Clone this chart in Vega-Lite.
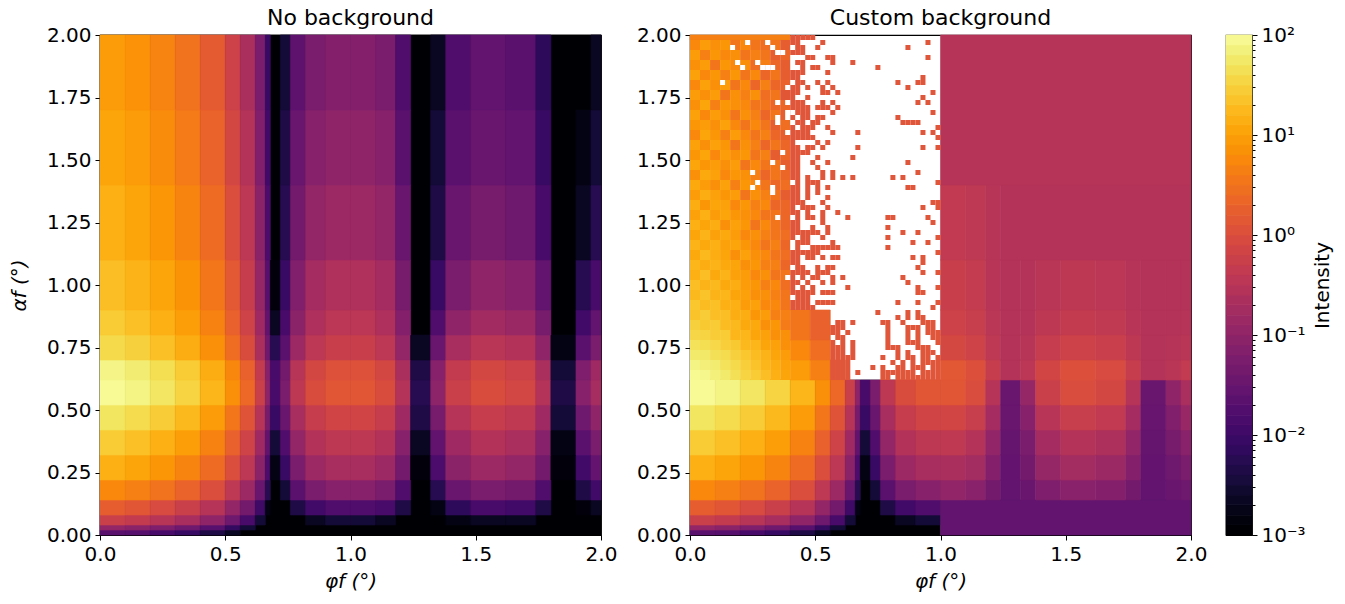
{"$schema":"https://vega.github.io/schema/vega-lite/v6.json","background":"white","padding":{"left":8,"top":6,"right":5,"bottom":5},"spacing":17,
"config":{"font":"DejaVu Sans","view":{"stroke":"black","strokeWidth":1.2},"title":{"fontSize":22,"fontWeight":"normal","color":"black","offset":-5},"rect":{"strokeWidth":0.6},
"axis":{"grid":false,"domain":false,"tickColor":"black","tickSize":5,"tickWidth":1,"labelFontSize":20,"labelColor":"black","titleFontSize":20,"titleFontWeight":"normal","titleColor":"black","labelFlush":false,"labelPadding":4}},
"datasets":{
"cols":[{"c":0,"x":0,"x2":0.1},{"c":1,"x":0.1,"x2":0.2},{"c":2,"x":0.2,"x2":0.3},{"c":3,"x":0.3,"x2":0.4},{"c":4,"x":0.4,"x2":0.5},{"c":5,"x":0.5,"x2":0.56},{"c":6,"x":0.56,"x2":0.62},{"c":7,"x":0.62,"x2":0.66},{"c":8,"x":0.66,"x2":0.68},{"c":9,"x":0.68,"x2":0.72},{"c":10,"x":0.72,"x2":0.76},{"c":11,"x":0.76,"x2":0.82},{"c":12,"x":0.82,"x2":0.9},{"c":13,"x":0.9,"x2":1},{"c":14,"x":1,"x2":1.1},{"c":15,"x":1.1,"x2":1.18},{"c":16,"x":1.18,"x2":1.24},{"c":17,"x":1.24,"x2":1.32},{"c":18,"x":1.32,"x2":1.38},{"c":19,"x":1.38,"x2":1.48},{"c":20,"x":1.48,"x2":1.62},{"c":21,"x":1.62,"x2":1.74},{"c":22,"x":1.74,"x2":1.8},{"c":23,"x":1.8,"x2":1.9},{"c":24,"x":1.9,"x2":1.96},{"c":25,"x":1.96,"x2":2},{"c":26,"x":0,"x2":2},{"c":27,"x":0,"x2":1},{"c":28,"x":1,"x2":2},{"c":29,"x":1.24,"x2":2},{"c":30,"x":0,"x2":0.4},{"c":31,"x":0.4,"x2":0.48},{"c":32,"x":0.48,"x2":0.56},{"c":33,"x":0.56,"x2":0.62}],
"rows":[{"r":0,"y":0,"y2":0.02},{"r":1,"y":0.02,"y2":0.04},{"r":2,"y":0.04,"y2":0.08},{"r":3,"y":0.08,"y2":0.14},{"r":4,"y":0.14,"y2":0.22},{"r":5,"y":0.22,"y2":0.32},{"r":6,"y":0.32,"y2":0.42},{"r":7,"y":0.42,"y2":0.52},{"r":8,"y":0.52,"y2":0.62},{"r":9,"y":0.62,"y2":0.7},{"r":10,"y":0.7,"y2":0.8},{"r":11,"y":0.8,"y2":0.9},{"r":12,"y":0.9,"y2":1.1},{"r":13,"y":1.1,"y2":1.4},{"r":14,"y":1.4,"y2":1.7},{"r":15,"y":1.7,"y2":2},{"r":16,"y":0,"y2":2},{"r":17,"y":0,"y2":0.62},{"r":18,"y":0,"y2":0.14},{"r":21,"y":1.4,"y2":2},{"r":22,"y":1.98,"y2":2},{"r":23,"y":0.62,"y2":0.7},{"r":24,"y":0.7,"y2":0.78},{"r":25,"y":0.78,"y2":0.9}],
"left":[{"c":26,"r":16,"v":0.001},
{"c":0,"r":0,"v":0.02},{"c":1,"r":0,"v":0.018},{"c":2,"r":0,"v":0.012},{"c":3,"r":0,"v":0.008},{"c":4,"r":0,"v":0.004},{"c":5,"r":0,"v":0.002},
{"c":0,"r":1,"v":0.1},{"c":1,"r":1,"v":0.08},{"c":2,"r":1,"v":0.055},{"c":3,"r":1,"v":0.035},{"c":4,"r":1,"v":0.018},{"c":5,"r":1,"v":0.007},{"c":6,"r":1,"v":0.003},
{"c":0,"r":2,"v":0.5},{"c":1,"r":2,"v":0.4},{"c":2,"r":2,"v":0.28},{"c":3,"r":2,"v":0.18},{"c":4,"r":2,"v":0.09},{"c":5,"r":2,"v":0.035},{"c":6,"r":2,"v":0.012},{"c":7,"r":2,"v":0.003},{"c":12,"r":2,"v":0.002},{"c":13,"r":2,"v":0.003},{"c":14,"r":2,"v":0.003},{"c":15,"r":2,"v":0.002},{"c":19,"r":2,"v":0.0015},{"c":20,"r":2,"v":0.002},{"c":21,"r":2,"v":0.002},
{"c":0,"r":3,"v":1.5},{"c":1,"r":3,"v":1.2},{"c":2,"r":3,"v":0.8},{"c":3,"r":3,"v":0.5},{"c":4,"r":3,"v":0.27},{"c":5,"r":3,"v":0.1},{"c":6,"r":3,"v":0.04},{"c":7,"r":3,"v":0.009},{"c":8,"r":3,"v":0.0015},{"c":11,"r":3,"v":0.004},{"c":12,"r":3,"v":0.01},{"c":13,"r":3,"v":0.015},{"c":14,"r":3,"v":0.015},{"c":15,"r":3,"v":0.012},{"c":16,"r":3,"v":0.004},{"c":18,"r":3,"v":0.0015},{"c":19,"r":3,"v":0.006},{"c":20,"r":3,"v":0.012},{"c":21,"r":3,"v":0.01},{"c":22,"r":3,"v":0.004},{"c":24,"r":3,"v":0.0012},{"c":25,"r":3,"v":0.002},
{"c":0,"r":4,"v":5},{"c":1,"r":4,"v":4},{"c":2,"r":4,"v":2.8},{"c":3,"r":4,"v":1.8},{"c":4,"r":4,"v":0.9},{"c":5,"r":4,"v":0.35},{"c":6,"r":4,"v":0.13},{"c":7,"r":4,"v":0.03},{"c":8,"r":4,"v":0.005},{"c":10,"r":4,"v":0.003},{"c":11,"r":4,"v":0.02},{"c":12,"r":4,"v":0.05},{"c":13,"r":4,"v":0.07},{"c":14,"r":4,"v":0.07},{"c":15,"r":4,"v":0.05},{"c":16,"r":4,"v":0.015},{"c":18,"r":4,"v":0.005},{"c":19,"r":4,"v":0.03},{"c":20,"r":4,"v":0.05},{"c":21,"r":4,"v":0.04},{"c":22,"r":4,"v":0.015},{"c":24,"r":4,"v":0.004},{"c":25,"r":4,"v":0.01},
{"c":0,"r":5,"v":13},{"c":1,"r":5,"v":10},{"c":2,"r":5,"v":7},{"c":3,"r":5,"v":4.5},{"c":4,"r":5,"v":2.3},{"c":5,"r":5,"v":0.9},{"c":6,"r":5,"v":0.33},{"c":7,"r":5,"v":0.08},{"c":8,"r":5,"v":0.013},{"c":9,"r":5,"v":0.0015},{"c":10,"r":5,"v":0.008},{"c":11,"r":5,"v":0.05},{"c":12,"r":5,"v":0.13},{"c":13,"r":5,"v":0.18},{"c":14,"r":5,"v":0.18},{"c":15,"r":5,"v":0.13},{"c":16,"r":5,"v":0.04},{"c":17,"r":5,"v":0.0012},{"c":18,"r":5,"v":0.013},{"c":19,"r":5,"v":0.08},{"c":20,"r":5,"v":0.13},{"c":21,"r":5,"v":0.1},{"c":22,"r":5,"v":0.04},{"c":23,"r":5,"v":0.0012},{"c":24,"r":5,"v":0.01},{"c":25,"r":5,"v":0.026},
{"c":0,"r":6,"v":24},{"c":1,"r":6,"v":19},{"c":2,"r":6,"v":13},{"c":3,"r":6,"v":8.5},{"c":4,"r":6,"v":4.3},{"c":5,"r":6,"v":1.7},{"c":6,"r":6,"v":0.6},{"c":7,"r":6,"v":0.14},{"c":8,"r":6,"v":0.024},{"c":9,"r":6,"v":0.003},{"c":10,"r":6,"v":0.015},{"c":11,"r":6,"v":0.1},{"c":12,"r":6,"v":0.24},{"c":13,"r":6,"v":0.34},{"c":14,"r":6,"v":0.34},{"c":15,"r":6,"v":0.24},{"c":16,"r":6,"v":0.07},{"c":17,"r":6,"v":0.002},{"c":18,"r":6,"v":0.024},{"c":19,"r":6,"v":0.14},{"c":20,"r":6,"v":0.24},{"c":21,"r":6,"v":0.19},{"c":22,"r":6,"v":0.07},{"c":23,"r":6,"v":0.0015},{"c":24,"r":6,"v":0.02},{"c":25,"r":6,"v":0.05},
{"c":0,"r":7,"v":45},{"c":1,"r":7,"v":36},{"c":2,"r":7,"v":25},{"c":3,"r":7,"v":16},{"c":4,"r":7,"v":8},{"c":5,"r":7,"v":3.2},{"c":6,"r":7,"v":1.1},{"c":7,"r":7,"v":0.27},{"c":8,"r":7,"v":0.045},{"c":9,"r":7,"v":0.008},{"c":10,"r":7,"v":0.03},{"c":11,"r":7,"v":0.18},{"c":12,"r":7,"v":0.45},{"c":13,"r":7,"v":0.63},{"c":14,"r":7,"v":0.63},{"c":15,"r":7,"v":0.45},{"c":16,"r":7,"v":0.14},{"c":17,"r":7,"v":0.004},{"c":18,"r":7,"v":0.045},{"c":19,"r":7,"v":0.27},{"c":20,"r":7,"v":0.45},{"c":21,"r":7,"v":0.36},{"c":22,"r":7,"v":0.14},{"c":23,"r":7,"v":0.003},{"c":24,"r":7,"v":0.036},{"c":25,"r":7,"v":0.09},
{"c":0,"r":8,"v":85},{"c":1,"r":8,"v":68},{"c":2,"r":8,"v":47},{"c":3,"r":8,"v":30},{"c":4,"r":8,"v":15},{"c":5,"r":8,"v":6},{"c":6,"r":8,"v":2.1},{"c":7,"r":8,"v":0.5},{"c":8,"r":8,"v":0.085},{"c":9,"r":8,"v":0.012},{"c":10,"r":8,"v":0.05},{"c":11,"r":8,"v":0.34},{"c":12,"r":8,"v":0.85},{"c":13,"r":8,"v":1.2},{"c":14,"r":8,"v":1.2},{"c":15,"r":8,"v":0.85},{"c":16,"r":8,"v":0.25},{"c":17,"r":8,"v":0.005},{"c":18,"r":8,"v":0.085},{"c":19,"r":8,"v":0.5},{"c":20,"r":8,"v":0.85},{"c":21,"r":8,"v":0.68},{"c":22,"r":8,"v":0.25},{"c":23,"r":8,"v":0.004},{"c":24,"r":8,"v":0.07},{"c":25,"r":8,"v":0.17},
{"c":0,"r":9,"v":70},{"c":1,"r":9,"v":56},{"c":2,"r":9,"v":38},{"c":3,"r":9,"v":24},{"c":4,"r":9,"v":12},{"c":5,"r":9,"v":4.9},{"c":6,"r":9,"v":1.7},{"c":7,"r":9,"v":0.4},{"c":8,"r":9,"v":0.07},{"c":9,"r":9,"v":0.012},{"c":10,"r":9,"v":0.04},{"c":11,"r":9,"v":0.28},{"c":12,"r":9,"v":0.7},{"c":13,"r":9,"v":1},{"c":14,"r":9,"v":1},{"c":15,"r":9,"v":0.7},{"c":16,"r":9,"v":0.2},{"c":17,"r":9,"v":0.004},{"c":18,"r":9,"v":0.07},{"c":19,"r":9,"v":0.4},{"c":20,"r":9,"v":0.7},{"c":21,"r":9,"v":0.56},{"c":22,"r":9,"v":0.2},{"c":23,"r":9,"v":0.003},{"c":24,"r":9,"v":0.055},{"c":25,"r":9,"v":0.14},
{"c":0,"r":10,"v":35},{"c":1,"r":10,"v":28},{"c":2,"r":10,"v":19},{"c":3,"r":10,"v":12},{"c":4,"r":10,"v":6},{"c":5,"r":10,"v":2.4},{"c":6,"r":10,"v":0.85},{"c":7,"r":10,"v":0.2},{"c":8,"r":10,"v":0.035},{"c":9,"r":10,"v":0.005},{"c":10,"r":10,"v":0.02},{"c":11,"r":10,"v":0.13},{"c":12,"r":10,"v":0.33},{"c":13,"r":10,"v":0.48},{"c":14,"r":10,"v":0.48},{"c":15,"r":10,"v":0.33},{"c":16,"r":10,"v":0.1},{"c":17,"r":10,"v":0.002},{"c":18,"r":10,"v":0.03},{"c":19,"r":10,"v":0.18},{"c":20,"r":10,"v":0.3},{"c":21,"r":10,"v":0.24},{"c":22,"r":10,"v":0.09},{"c":23,"r":10,"v":0.0015},{"c":24,"r":10,"v":0.02},{"c":25,"r":10,"v":0.05},
{"c":0,"r":11,"v":24},{"c":1,"r":11,"v":19},{"c":2,"r":11,"v":13},{"c":3,"r":11,"v":8.5},{"c":4,"r":11,"v":4.3},{"c":5,"r":11,"v":1.7},{"c":6,"r":11,"v":0.6},{"c":7,"r":11,"v":0.14},{"c":8,"r":11,"v":0.024},{"c":9,"r":11,"v":0.002},{"c":10,"r":11,"v":0.012},{"c":11,"r":11,"v":0.08},{"c":12,"r":11,"v":0.22},{"c":13,"r":11,"v":0.32},{"c":14,"r":11,"v":0.32},{"c":15,"r":11,"v":0.22},{"c":16,"r":11,"v":0.065},{"c":18,"r":11,"v":0.015},{"c":19,"r":11,"v":0.09},{"c":20,"r":11,"v":0.15},{"c":21,"r":11,"v":0.12},{"c":22,"r":11,"v":0.045},{"c":24,"r":11,"v":0.01},{"c":25,"r":11,"v":0.025},
{"c":0,"r":12,"v":18},{"c":1,"r":12,"v":14},{"c":2,"r":12,"v":10},{"c":3,"r":12,"v":6.5},{"c":4,"r":12,"v":3.2},{"c":5,"r":12,"v":1.3},{"c":6,"r":12,"v":0.45},{"c":7,"r":12,"v":0.11},{"c":8,"r":12,"v":0.018},{"c":9,"r":12,"v":0.0012},{"c":10,"r":12,"v":0.008},{"c":11,"r":12,"v":0.06},{"c":12,"r":12,"v":0.16},{"c":13,"r":12,"v":0.23},{"c":14,"r":12,"v":0.23},{"c":15,"r":12,"v":0.16},{"c":16,"r":12,"v":0.045},{"c":18,"r":12,"v":0.008},{"c":19,"r":12,"v":0.05},{"c":20,"r":12,"v":0.09},{"c":21,"r":12,"v":0.07},{"c":22,"r":12,"v":0.025},{"c":24,"r":12,"v":0.005},{"c":25,"r":12,"v":0.012},
{"c":0,"r":13,"v":13},{"c":1,"r":13,"v":10},{"c":2,"r":13,"v":7},{"c":3,"r":13,"v":4.5},{"c":4,"r":13,"v":2.3},{"c":5,"r":13,"v":0.9},{"c":6,"r":13,"v":0.33},{"c":7,"r":13,"v":0.08},{"c":8,"r":13,"v":0.013},{"c":10,"r":13,"v":0.005},{"c":11,"r":13,"v":0.04},{"c":12,"r":13,"v":0.1},{"c":13,"r":13,"v":0.13},{"c":14,"r":13,"v":0.13},{"c":15,"r":13,"v":0.1},{"c":16,"r":13,"v":0.03},{"c":18,"r":13,"v":0.004},{"c":19,"r":13,"v":0.03},{"c":20,"r":13,"v":0.045},{"c":21,"r":13,"v":0.035},{"c":22,"r":13,"v":0.012},{"c":24,"r":13,"v":0.002},{"c":25,"r":13,"v":0.005},
{"c":0,"r":14,"v":10},{"c":1,"r":14,"v":8},{"c":2,"r":14,"v":5.5},{"c":3,"r":14,"v":3.5},{"c":4,"r":14,"v":1.8},{"c":5,"r":14,"v":0.7},{"c":6,"r":14,"v":0.25},{"c":7,"r":14,"v":0.06},{"c":8,"r":14,"v":0.01},{"c":10,"r":14,"v":0.004},{"c":11,"r":14,"v":0.03},{"c":12,"r":14,"v":0.07},{"c":13,"r":14,"v":0.09},{"c":14,"r":14,"v":0.09},{"c":15,"r":14,"v":0.07},{"c":16,"r":14,"v":0.02},{"c":18,"r":14,"v":0.003},{"c":19,"r":14,"v":0.02},{"c":20,"r":14,"v":0.03},{"c":21,"r":14,"v":0.025},{"c":22,"r":14,"v":0.008},{"c":24,"r":14,"v":0.0015},{"c":25,"r":14,"v":0.003},
{"c":0,"r":15,"v":8},{"c":1,"r":15,"v":6.4},{"c":2,"r":15,"v":4.4},{"c":3,"r":15,"v":2.8},{"c":4,"r":15,"v":1.4},{"c":5,"r":15,"v":0.56},{"c":6,"r":15,"v":0.2},{"c":7,"r":15,"v":0.05},{"c":8,"r":15,"v":0.008},{"c":10,"r":15,"v":0.003},{"c":11,"r":15,"v":0.022},{"c":12,"r":15,"v":0.05},{"c":13,"r":15,"v":0.065},{"c":14,"r":15,"v":0.065},{"c":15,"r":15,"v":0.05},{"c":16,"r":15,"v":0.015},{"c":18,"r":15,"v":0.002},{"c":19,"r":15,"v":0.015},{"c":20,"r":15,"v":0.025},{"c":21,"r":15,"v":0.02},{"c":22,"r":15,"v":0.006},{"c":25,"r":15,"v":0.002}],
"right":[{"c":27,"r":17,"v":0.001},{"c":28,"r":18,"v":0.025},
{"c":14,"r":4,"v":0.095},{"c":15,"r":4,"v":0.075},{"c":16,"r":4,"v":0.04},{"c":17,"r":4,"v":0.025},{"c":18,"r":4,"v":0.03},{"c":19,"r":4,"v":0.055},{"c":20,"r":4,"v":0.075},{"c":21,"r":4,"v":0.065},{"c":22,"r":4,"v":0.04},{"c":23,"r":4,"v":0.025},{"c":24,"r":4,"v":0.03},{"c":25,"r":4,"v":0.035},
{"c":14,"r":5,"v":0.2},{"c":15,"r":5,"v":0.155},{"c":16,"r":5,"v":0.065},{"c":17,"r":5,"v":0.026},{"c":18,"r":5,"v":0.04},{"c":19,"r":5,"v":0.105},{"c":20,"r":5,"v":0.155},{"c":21,"r":5,"v":0.125},{"c":22,"r":5,"v":0.065},{"c":23,"r":5,"v":0.026},{"c":24,"r":5,"v":0.035},{"c":25,"r":5,"v":0.05},
{"c":14,"r":6,"v":0.36},{"c":15,"r":6,"v":0.26},{"c":16,"r":6,"v":0.095},{"c":17,"r":6,"v":0.027},{"c":18,"r":6,"v":0.05},{"c":19,"r":6,"v":0.16},{"c":20,"r":6,"v":0.26},{"c":21,"r":6,"v":0.21},{"c":22,"r":6,"v":0.095},{"c":23,"r":6,"v":0.027},{"c":24,"r":6,"v":0.045},{"c":25,"r":6,"v":0.075},
{"c":14,"r":7,"v":0.65},{"c":15,"r":7,"v":0.47},{"c":16,"r":7,"v":0.16},{"c":17,"r":7,"v":0.03},{"c":18,"r":7,"v":0.07},{"c":19,"r":7,"v":0.29},{"c":20,"r":7,"v":0.47},{"c":21,"r":7,"v":0.38},{"c":22,"r":7,"v":0.16},{"c":23,"r":7,"v":0.028},{"c":24,"r":7,"v":0.06},{"c":25,"r":7,"v":0.115},
{"c":14,"r":8,"v":1.2},{"c":15,"r":8,"v":0.87},{"c":16,"r":8,"v":0.27},{"c":17,"r":8,"v":0.03},{"c":18,"r":8,"v":0.11},{"c":19,"r":8,"v":0.52},{"c":20,"r":8,"v":0.87},{"c":21,"r":8,"v":0.7},{"c":22,"r":8,"v":0.27},{"c":23,"r":8,"v":0.03},{"c":24,"r":8,"v":0.09},{"c":25,"r":8,"v":0.19},
{"c":14,"r":9,"v":1.25},{"c":15,"r":9,"v":0.95},{"c":16,"r":9,"v":0.45},{"c":17,"r":9,"v":0.25},{"c":18,"r":9,"v":0.32},{"c":19,"r":9,"v":0.65},{"c":20,"r":9,"v":0.95},{"c":21,"r":9,"v":0.8},{"c":22,"r":9,"v":0.45},{"c":23,"r":9,"v":0.25},{"c":24,"r":9,"v":0.3},{"c":25,"r":9,"v":0.39},
{"c":14,"r":10,"v":0.73},{"c":15,"r":10,"v":0.58},{"c":16,"r":10,"v":0.35},{"c":17,"r":10,"v":0.25},{"c":18,"r":10,"v":0.28},{"c":19,"r":10,"v":0.43},{"c":20,"r":10,"v":0.55},{"c":21,"r":10,"v":0.49},{"c":22,"r":10,"v":0.34},{"c":23,"r":10,"v":0.25},{"c":24,"r":10,"v":0.27},{"c":25,"r":10,"v":0.3},
{"c":14,"r":11,"v":0.57},{"c":15,"r":11,"v":0.47},{"c":16,"r":11,"v":0.31},{"c":17,"r":11,"v":0.25},{"c":18,"r":11,"v":0.26},{"c":19,"r":11,"v":0.34},{"c":20,"r":11,"v":0.4},{"c":21,"r":11,"v":0.37},{"c":22,"r":11,"v":0.29},{"c":23,"r":11,"v":0.25},{"c":24,"r":11,"v":0.26},{"c":25,"r":11,"v":0.27},
{"c":14,"r":12,"v":0.48},{"c":15,"r":12,"v":0.41},{"c":16,"r":12,"v":0.29},{"c":17,"r":12,"v":0.25},{"c":18,"r":12,"v":0.26},{"c":19,"r":12,"v":0.3},{"c":20,"r":12,"v":0.34},{"c":21,"r":12,"v":0.32},{"c":22,"r":12,"v":0.27},{"c":23,"r":12,"v":0.25},{"c":24,"r":12,"v":0.25},{"c":25,"r":12,"v":0.26},
{"c":14,"r":13,"v":0.38},{"c":15,"r":13,"v":0.35},{"c":16,"r":13,"v":0.28},{"c":29,"r":13,"v":0.26},{"c":28,"r":21,"v":0.27},
{"c":30,"r":22,"v":4},{"c":31,"r":23,"v":8},{"c":32,"r":23,"v":4},{"c":33,"r":23,"v":1.8},{"c":31,"r":24,"v":5},{"c":32,"r":24,"v":2.5},{"c":31,"r":25,"v":3},{"c":32,"r":25,"v":1.7}],
"coarse":[
{"x":0.02,"y":1.96,"v":5},{"x":0.06,"y":1.96,"v":8},{"x":0.1,"y":1.96,"v":6},{"x":0.14,"y":1.96,"v":7},{"x":0.18,"y":1.96,"v":3},{"x":0.22,"y":1.96,"v":5},{"x":0.26,"y":1.96,"v":3},{"x":0.3,"y":1.96,"v":2.5},{"x":0.34,"y":1.96,"v":3},{"x":0.38,"y":1.96,"v":1.5},
{"x":0.02,"y":1.92,"v":8},{"x":0.06,"y":1.92,"v":4},{"x":0.1,"y":1.92,"v":7},{"x":0.14,"y":1.92,"v":5},{"x":0.18,"y":1.92,"v":6},{"x":0.22,"y":1.92,"v":3},{"x":0.26,"y":1.92,"v":4},{"x":0.3,"y":1.92,"v":3},{"x":0.34,"y":1.92,"v":1.5},{"x":0.38,"y":1.92,"v":2},
{"x":0.02,"y":1.88,"v":6},{"x":0.06,"y":1.88,"v":8},{"x":0.1,"y":1.88,"v":3},{"x":0.14,"y":1.88,"v":7},{"x":0.18,"y":1.88,"v":5},{"x":0.22,"y":1.88,"v":6},{"x":0.26,"y":1.88,"v":2.5},{"x":0.3,"y":1.88,"v":4},{"x":0.34,"y":1.88,"v":2},{"x":0.38,"y":1.88,"v":1.5},
{"x":0.02,"y":1.84,"v":9},{"x":0.06,"y":1.84,"v":5},{"x":0.1,"y":1.84,"v":7},{"x":0.14,"y":1.84,"v":4},{"x":0.18,"y":1.84,"v":7},{"x":0.22,"y":1.84,"v":3},{"x":0.26,"y":1.84,"v":5},{"x":0.3,"y":1.84,"v":2},{"x":0.34,"y":1.84,"v":3},{"x":0.38,"y":1.84,"v":1.5},
{"x":0.02,"y":1.8,"v":5},{"x":0.06,"y":1.8,"v":9},{"x":0.1,"y":1.8,"v":6},{"x":0.14,"y":1.8,"v":8},{"x":0.18,"y":1.8,"v":3},{"x":0.22,"y":1.8,"v":5},{"x":0.26,"y":1.8,"v":2},{"x":0.3,"y":1.8,"v":4},{"x":0.34,"y":1.8,"v":2},{"x":0.38,"y":1.8,"v":1.8},
{"x":0.02,"y":1.76,"v":8},{"x":0.06,"y":1.76,"v":6},{"x":0.1,"y":1.76,"v":8},{"x":0.14,"y":1.76,"v":3},{"x":0.18,"y":1.76,"v":6},{"x":0.22,"y":1.76,"v":4},{"x":0.26,"y":1.76,"v":6},{"x":0.3,"y":1.76,"v":2.5},{"x":0.34,"y":1.76,"v":3},{"x":0.38,"y":1.76,"v":1.2},
{"x":0.02,"y":1.72,"v":6},{"x":0.06,"y":1.72,"v":10},{"x":0.1,"y":1.72,"v":4},{"x":0.14,"y":1.72,"v":7},{"x":0.18,"y":1.72,"v":6},{"x":0.22,"y":1.72,"v":5},{"x":0.26,"y":1.72,"v":3},{"x":0.3,"y":1.72,"v":3},{"x":0.34,"y":1.72,"v":2},{"x":0.38,"y":1.72,"v":2},
{"x":0.02,"y":1.68,"v":9},{"x":0.06,"y":1.68,"v":5},{"x":0.1,"y":1.68,"v":8},{"x":0.14,"y":1.68,"v":6},{"x":0.18,"y":1.68,"v":3},{"x":0.22,"y":1.68,"v":6},{"x":0.26,"y":1.68,"v":4},{"x":0.3,"y":1.68,"v":2},{"x":0.34,"y":1.68,"v":3},{"x":0.38,"y":1.68,"v":1.5},
{"x":0.02,"y":1.64,"v":7},{"x":0.06,"y":1.64,"v":8},{"x":0.1,"y":1.64,"v":6},{"x":0.14,"y":1.64,"v":9},{"x":0.18,"y":1.64,"v":5},{"x":0.22,"y":1.64,"v":3},{"x":0.26,"y":1.64,"v":5},{"x":0.3,"y":1.64,"v":3},{"x":0.34,"y":1.64,"v":1.5},{"x":0.38,"y":1.64,"v":2.5},
{"x":0.02,"y":1.6,"v":5},{"x":0.06,"y":1.6,"v":10},{"x":0.1,"y":1.6,"v":7},{"x":0.14,"y":1.6,"v":4},{"x":0.18,"y":1.6,"v":8},{"x":0.22,"y":1.6,"v":5},{"x":0.26,"y":1.6,"v":3},{"x":0.3,"y":1.6,"v":4},{"x":0.34,"y":1.6,"v":2},{"x":0.38,"y":1.6,"v":1.5},
{"x":0.02,"y":1.56,"v":9},{"x":0.06,"y":1.56,"v":6},{"x":0.1,"y":1.56,"v":9},{"x":0.14,"y":1.56,"v":7},{"x":0.18,"y":1.56,"v":3},{"x":0.22,"y":1.56,"v":6},{"x":0.26,"y":1.56,"v":4},{"x":0.3,"y":1.56,"v":2},{"x":0.34,"y":1.56,"v":3},{"x":0.38,"y":1.56,"v":2},
{"x":0.02,"y":1.52,"v":7},{"x":0.06,"y":1.52,"v":10},{"x":0.1,"y":1.52,"v":5},{"x":0.14,"y":1.52,"v":8},{"x":0.18,"y":1.52,"v":6},{"x":0.22,"y":1.52,"v":7},{"x":0.26,"y":1.52,"v":3},{"x":0.3,"y":1.52,"v":4},{"x":0.34,"y":1.52,"v":1.5},{"x":0.38,"y":1.52,"v":2},
{"x":0.02,"y":1.48,"v":10},{"x":0.06,"y":1.48,"v":7},{"x":0.1,"y":1.48,"v":8},{"x":0.14,"y":1.48,"v":6},{"x":0.18,"y":1.48,"v":8},{"x":0.22,"y":1.48,"v":3},{"x":0.26,"y":1.48,"v":5},{"x":0.3,"y":1.48,"v":3},{"x":0.34,"y":1.48,"v":3},{"x":0.38,"y":1.48,"v":1.5},
{"x":0.02,"y":1.44,"v":6},{"x":0.06,"y":1.44,"v":11},{"x":0.1,"y":1.44,"v":9},{"x":0.14,"y":1.44,"v":5},{"x":0.18,"y":1.44,"v":7},{"x":0.22,"y":1.44,"v":6},{"x":0.26,"y":1.44,"v":4},{"x":0.3,"y":1.44,"v":2},{"x":0.34,"y":1.44,"v":3},{"x":0.38,"y":1.44,"v":2},
{"x":0.02,"y":1.4,"v":11},{"x":0.06,"y":1.4,"v":8},{"x":0.1,"y":1.4,"v":6},{"x":0.14,"y":1.4,"v":9},{"x":0.18,"y":1.4,"v":4},{"x":0.22,"y":1.4,"v":7},{"x":0.26,"y":1.4,"v":5},{"x":0.3,"y":1.4,"v":3},{"x":0.34,"y":1.4,"v":2},{"x":0.38,"y":1.4,"v":2.5},
{"x":0.02,"y":1.36,"v":8},{"x":0.06,"y":1.36,"v":12},{"x":0.1,"y":1.36,"v":9},{"x":0.14,"y":1.36,"v":7},{"x":0.18,"y":1.36,"v":8},{"x":0.22,"y":1.36,"v":3},{"x":0.26,"y":1.36,"v":6},{"x":0.3,"y":1.36,"v":4},{"x":0.34,"y":1.36,"v":3},{"x":0.38,"y":1.36,"v":1.5},
{"x":0.02,"y":1.32,"v":12},{"x":0.06,"y":1.32,"v":7},{"x":0.1,"y":1.32,"v":10},{"x":0.14,"y":1.32,"v":9},{"x":0.18,"y":1.32,"v":5},{"x":0.22,"y":1.32,"v":7},{"x":0.26,"y":1.32,"v":4},{"x":0.3,"y":1.32,"v":5},{"x":0.34,"y":1.32,"v":2},{"x":0.38,"y":1.32,"v":2},
{"x":0.02,"y":1.28,"v":9},{"x":0.06,"y":1.28,"v":13},{"x":0.1,"y":1.28,"v":8},{"x":0.14,"y":1.28,"v":10},{"x":0.18,"y":1.28,"v":7},{"x":0.22,"y":1.28,"v":6},{"x":0.26,"y":1.28,"v":5},{"x":0.3,"y":1.28,"v":3},{"x":0.34,"y":1.28,"v":3},{"x":0.38,"y":1.28,"v":2},
{"x":0.02,"y":1.24,"v":13},{"x":0.06,"y":1.24,"v":10},{"x":0.1,"y":1.24,"v":12},{"x":0.14,"y":1.24,"v":6},{"x":0.18,"y":1.24,"v":9},{"x":0.22,"y":1.24,"v":7},{"x":0.26,"y":1.24,"v":3},{"x":0.3,"y":1.24,"v":5},{"x":0.34,"y":1.24,"v":3},{"x":0.38,"y":1.24,"v":2},
{"x":0.02,"y":1.2,"v":10},{"x":0.06,"y":1.2,"v":14},{"x":0.1,"y":1.2,"v":9},{"x":0.14,"y":1.2,"v":11},{"x":0.18,"y":1.2,"v":8},{"x":0.22,"y":1.2,"v":5},{"x":0.26,"y":1.2,"v":6},{"x":0.3,"y":1.2,"v":4},{"x":0.34,"y":1.2,"v":3},{"x":0.38,"y":1.2,"v":2.5},
{"x":0.02,"y":1.16,"v":14},{"x":0.06,"y":1.16,"v":11},{"x":0.1,"y":1.16,"v":13},{"x":0.14,"y":1.16,"v":9},{"x":0.18,"y":1.16,"v":10},{"x":0.22,"y":1.16,"v":7},{"x":0.26,"y":1.16,"v":5},{"x":0.3,"y":1.16,"v":3},{"x":0.34,"y":1.16,"v":4},{"x":0.38,"y":1.16,"v":2},
{"x":0.02,"y":1.12,"v":11},{"x":0.06,"y":1.12,"v":16},{"x":0.1,"y":1.12,"v":12},{"x":0.14,"y":1.12,"v":10},{"x":0.18,"y":1.12,"v":6},{"x":0.22,"y":1.12,"v":9},{"x":0.26,"y":1.12,"v":6},{"x":0.3,"y":1.12,"v":5},{"x":0.34,"y":1.12,"v":3},{"x":0.38,"y":1.12,"v":2.5},
{"x":0.02,"y":1.08,"v":15},{"x":0.06,"y":1.08,"v":12},{"x":0.1,"y":1.08,"v":14},{"x":0.14,"y":1.08,"v":11},{"x":0.18,"y":1.08,"v":10},{"x":0.22,"y":1.08,"v":6},{"x":0.26,"y":1.08,"v":7},{"x":0.3,"y":1.08,"v":4},{"x":0.34,"y":1.08,"v":4},{"x":0.38,"y":1.08,"v":2},
{"x":0.02,"y":1.04,"v":13},{"x":0.06,"y":1.04,"v":18},{"x":0.1,"y":1.04,"v":11},{"x":0.14,"y":1.04,"v":14},{"x":0.18,"y":1.04,"v":9},{"x":0.22,"y":1.04,"v":8},{"x":0.26,"y":1.04,"v":5},{"x":0.3,"y":1.04,"v":6},{"x":0.34,"y":1.04,"v":3},{"x":0.38,"y":1.04,"v":3},
{"x":0.02,"y":1,"v":18},{"x":0.06,"y":1,"v":14},{"x":0.1,"y":1,"v":16},{"x":0.14,"y":1,"v":11},{"x":0.18,"y":1,"v":12},{"x":0.22,"y":1,"v":8},{"x":0.26,"y":1,"v":7},{"x":0.3,"y":1,"v":4},{"x":0.34,"y":1,"v":5},{"x":0.38,"y":1,"v":2.5},
{"x":0.02,"y":0.96,"v":16},{"x":0.06,"y":0.96,"v":20},{"x":0.1,"y":0.96,"v":14},{"x":0.14,"y":0.96,"v":15},{"x":0.18,"y":0.96,"v":10},{"x":0.22,"y":0.96,"v":9},{"x":0.26,"y":0.96,"v":6},{"x":0.3,"y":0.96,"v":6},{"x":0.34,"y":0.96,"v":4},{"x":0.38,"y":0.96,"v":3},
{"x":0.02,"y":0.92,"v":22},{"x":0.06,"y":0.92,"v":17},{"x":0.1,"y":0.92,"v":19},{"x":0.14,"y":0.92,"v":13},{"x":0.18,"y":0.92,"v":13},{"x":0.22,"y":0.92,"v":8},{"x":0.26,"y":0.92,"v":9},{"x":0.3,"y":0.92,"v":5},{"x":0.34,"y":0.92,"v":5},{"x":0.38,"y":0.92,"v":3},
{"x":0.02,"y":0.88,"v":20},{"x":0.06,"y":0.88,"v":25},{"x":0.1,"y":0.88,"v":18},{"x":0.14,"y":0.88,"v":18},{"x":0.18,"y":0.88,"v":12},{"x":0.22,"y":0.88,"v":12},{"x":0.26,"y":0.88,"v":7},{"x":0.3,"y":0.88,"v":8},{"x":0.34,"y":0.88,"v":4},{"x":0.38,"y":0.88,"v":4},
{"x":0.02,"y":0.84,"v":28},{"x":0.06,"y":0.84,"v":23},{"x":0.1,"y":0.84,"v":24},{"x":0.14,"y":0.84,"v":17},{"x":0.18,"y":0.84,"v":16},{"x":0.22,"y":0.84,"v":11},{"x":0.26,"y":0.84,"v":11},{"x":0.3,"y":0.84,"v":6},{"x":0.34,"y":0.84,"v":7},{"x":0.38,"y":0.84,"v":3.5},
{"x":0.02,"y":0.8,"v":32},{"x":0.06,"y":0.8,"v":30},{"x":0.1,"y":0.8,"v":25},{"x":0.14,"y":0.8,"v":24},{"x":0.18,"y":0.8,"v":15},{"x":0.22,"y":0.8,"v":15},{"x":0.26,"y":0.8,"v":10},{"x":0.3,"y":0.8,"v":9},{"x":0.34,"y":0.8,"v":6},{"x":0.38,"y":0.8,"v":6},
{"x":0.02,"y":0.76,"v":42},{"x":0.06,"y":0.76,"v":38},{"x":0.1,"y":0.76,"v":33},{"x":0.14,"y":0.76,"v":27},{"x":0.18,"y":0.76,"v":23},{"x":0.22,"y":0.76,"v":16},{"x":0.26,"y":0.76,"v":15},{"x":0.3,"y":0.76,"v":10},{"x":0.34,"y":0.76,"v":9},{"x":0.38,"y":0.76,"v":6},
{"x":0.02,"y":0.72,"v":52},{"x":0.06,"y":0.72,"v":50},{"x":0.1,"y":0.72,"v":40},{"x":0.14,"y":0.72,"v":36},{"x":0.18,"y":0.72,"v":28},{"x":0.22,"y":0.72,"v":22},{"x":0.26,"y":0.72,"v":17},{"x":0.3,"y":0.72,"v":14},{"x":0.34,"y":0.72,"v":10},{"x":0.38,"y":0.72,"v":8},
{"x":0.02,"y":0.68,"v":68},{"x":0.06,"y":0.68,"v":60},{"x":0.1,"y":0.68,"v":55},{"x":0.14,"y":0.68,"v":42},{"x":0.18,"y":0.68,"v":35},{"x":0.22,"y":0.68,"v":27},{"x":0.26,"y":0.68,"v":20},{"x":0.3,"y":0.68,"v":15},{"x":0.34,"y":0.68,"v":12},{"x":0.38,"y":0.68,"v":9},
{"x":0.02,"y":0.64,"v":80},{"x":0.06,"y":0.64,"v":75},{"x":0.1,"y":0.64,"v":62},{"x":0.14,"y":0.64,"v":52},{"x":0.18,"y":0.64,"v":40},{"x":0.22,"y":0.64,"v":30},{"x":0.26,"y":0.64,"v":24},{"x":0.3,"y":0.64,"v":18},{"x":0.34,"y":0.64,"v":13},{"x":0.38,"y":0.64,"v":10}],
"fine":[
{"x":0.41,"y":1.99},{"x":0.43,"y":1.99},{"x":0.45,"y":1.99},{"x":0.47,"y":1.99},{"x":0.49,"y":1.99},
{"x":0.41,"y":1.97},{"x":0.43,"y":1.97},{"x":0.53,"y":1.97},{"x":0.95,"y":1.97},
{"x":0.43,"y":1.95},{"x":0.45,"y":1.95},{"x":0.51,"y":1.95},{"x":0.87,"y":1.95},
{"x":0.41,"y":1.93},{"x":0.43,"y":1.93},{"x":0.45,"y":1.93},
{"x":0.47,"y":1.91},{"x":0.49,"y":1.91},{"x":0.55,"y":1.91},{"x":0.57,"y":1.91},{"x":0.95,"y":1.91},
{"x":0.43,"y":1.89},{"x":0.45,"y":1.89},{"x":0.57,"y":1.89},{"x":0.65,"y":1.89},
{"x":0.45,"y":1.87},{"x":0.49,"y":1.87},{"x":0.51,"y":1.87},{"x":0.75,"y":1.87},
{"x":0.41,"y":1.85},{"x":0.43,"y":1.85},{"x":0.45,"y":1.85},{"x":0.55,"y":1.85},
{"x":0.41,"y":1.83},{"x":0.43,"y":1.83},{"x":0.93,"y":1.83},
{"x":0.43,"y":1.81},{"x":0.45,"y":1.81},{"x":0.51,"y":1.81},{"x":0.55,"y":1.81},{"x":0.83,"y":1.81},{"x":0.91,"y":1.81},{"x":0.93,"y":1.81},
{"x":0.41,"y":1.79},{"x":0.43,"y":1.79},{"x":0.47,"y":1.79},{"x":0.53,"y":1.79},{"x":0.57,"y":1.79},{"x":0.87,"y":1.79},
{"x":0.41,"y":1.77},{"x":0.43,"y":1.77},{"x":0.53,"y":1.77},{"x":0.55,"y":1.77},{"x":0.59,"y":1.77},{"x":0.97,"y":1.77},
{"x":0.41,"y":1.75},{"x":0.47,"y":1.75},{"x":0.93,"y":1.75},
{"x":0.41,"y":1.73},{"x":0.43,"y":1.73},{"x":0.45,"y":1.73},{"x":0.53,"y":1.73},{"x":0.57,"y":1.73},{"x":0.91,"y":1.73},{"x":0.95,"y":1.73},
{"x":0.41,"y":1.71},{"x":0.43,"y":1.71},{"x":0.45,"y":1.71},{"x":0.47,"y":1.71},{"x":0.51,"y":1.71},{"x":0.53,"y":1.71},{"x":0.55,"y":1.71},{"x":0.59,"y":1.71},
{"x":0.43,"y":1.69},{"x":0.45,"y":1.69},{"x":0.47,"y":1.69},{"x":0.57,"y":1.69},{"x":0.97,"y":1.69},
{"x":0.41,"y":1.67},{"x":0.45,"y":1.67},{"x":0.47,"y":1.67},{"x":0.51,"y":1.67},{"x":0.53,"y":1.67},{"x":0.83,"y":1.67},
{"x":0.43,"y":1.65},{"x":0.45,"y":1.65},{"x":0.49,"y":1.65},{"x":0.51,"y":1.65},{"x":0.85,"y":1.65},{"x":0.87,"y":1.65},{"x":0.89,"y":1.65},{"x":0.91,"y":1.65},
{"x":0.41,"y":1.63},{"x":0.45,"y":1.63},{"x":0.47,"y":1.63},{"x":0.49,"y":1.63},{"x":0.55,"y":1.63},{"x":0.99,"y":1.63},
{"x":0.41,"y":1.61},{"x":0.43,"y":1.61},{"x":0.45,"y":1.61},{"x":0.47,"y":1.61},{"x":0.57,"y":1.61},{"x":0.67,"y":1.61},{"x":0.93,"y":1.61},{"x":0.97,"y":1.61},
{"x":0.41,"y":1.59},{"x":0.43,"y":1.59},{"x":0.45,"y":1.59},{"x":0.47,"y":1.59},{"x":0.49,"y":1.59},{"x":0.99,"y":1.59},
{"x":0.41,"y":1.57},{"x":0.51,"y":1.57},{"x":0.55,"y":1.57},
{"x":0.41,"y":1.55},{"x":0.43,"y":1.55},{"x":0.47,"y":1.55},{"x":0.49,"y":1.55},{"x":0.53,"y":1.55},{"x":0.67,"y":1.55},{"x":0.93,"y":1.55},{"x":0.99,"y":1.55},
{"x":0.41,"y":1.53},{"x":0.43,"y":1.53},{"x":0.45,"y":1.53},{"x":0.47,"y":1.53},
{"x":0.41,"y":1.51},{"x":0.43,"y":1.51},{"x":0.51,"y":1.51},{"x":0.65,"y":1.51},
{"x":0.41,"y":1.49},{"x":0.43,"y":1.49},{"x":0.49,"y":1.49},{"x":0.55,"y":1.49},{"x":0.87,"y":1.49},
{"x":0.41,"y":1.47},{"x":0.43,"y":1.47},{"x":0.51,"y":1.47},
{"x":0.41,"y":1.45},{"x":0.43,"y":1.45},{"x":0.53,"y":1.45},{"x":0.57,"y":1.45},{"x":0.91,"y":1.45},
{"x":0.41,"y":1.43},{"x":0.43,"y":1.43},{"x":0.47,"y":1.43},{"x":0.53,"y":1.43},{"x":0.57,"y":1.43},{"x":0.61,"y":1.43},{"x":0.65,"y":1.43},{"x":0.81,"y":1.43},{"x":0.85,"y":1.43},
{"x":0.43,"y":1.41},{"x":0.47,"y":1.41},{"x":0.49,"y":1.41},{"x":0.51,"y":1.41},{"x":0.99,"y":1.41},
{"x":0.41,"y":1.39},{"x":0.43,"y":1.39},{"x":0.47,"y":1.39},{"x":0.51,"y":1.39},{"x":0.55,"y":1.39},{"x":0.87,"y":1.39},{"x":0.89,"y":1.39},
{"x":0.41,"y":1.37},{"x":0.43,"y":1.37},{"x":0.47,"y":1.37},{"x":0.51,"y":1.37},
{"x":0.41,"y":1.35},{"x":0.43,"y":1.35},{"x":0.47,"y":1.35},{"x":0.55,"y":1.35},
{"x":0.41,"y":1.33},{"x":0.43,"y":1.33},{"x":0.45,"y":1.33},{"x":0.53,"y":1.33},{"x":0.97,"y":1.33},{"x":0.99,"y":1.33},
{"x":0.41,"y":1.31},{"x":0.45,"y":1.31},{"x":0.47,"y":1.31},{"x":0.49,"y":1.31},{"x":0.55,"y":1.31},{"x":0.93,"y":1.31},{"x":0.99,"y":1.31},
{"x":0.41,"y":1.29},{"x":0.43,"y":1.29},{"x":0.47,"y":1.29},{"x":0.53,"y":1.29},{"x":0.59,"y":1.29},
{"x":0.43,"y":1.27},{"x":0.47,"y":1.27},{"x":0.49,"y":1.27},{"x":0.53,"y":1.27},{"x":0.63,"y":1.27},{"x":0.79,"y":1.27},{"x":0.81,"y":1.27},{"x":0.95,"y":1.27},
{"x":0.41,"y":1.25},{"x":0.43,"y":1.25},{"x":0.53,"y":1.25},{"x":0.97,"y":1.25},
{"x":0.41,"y":1.23},{"x":0.43,"y":1.23},{"x":0.49,"y":1.23},{"x":0.55,"y":1.23},{"x":0.79,"y":1.23},
{"x":0.41,"y":1.21},{"x":0.43,"y":1.21},{"x":0.45,"y":1.21},{"x":0.47,"y":1.21},{"x":0.49,"y":1.21},{"x":0.51,"y":1.21},{"x":0.55,"y":1.21},{"x":0.85,"y":1.21},{"x":0.91,"y":1.21},
{"x":0.41,"y":1.19},{"x":0.45,"y":1.19},{"x":0.47,"y":1.19},{"x":0.53,"y":1.19},{"x":0.79,"y":1.19},{"x":0.99,"y":1.19},
{"x":0.43,"y":1.17},{"x":0.45,"y":1.17},{"x":0.47,"y":1.17},{"x":0.57,"y":1.17},{"x":0.89,"y":1.17},{"x":0.95,"y":1.17},
{"x":0.43,"y":1.15},{"x":0.49,"y":1.15},{"x":0.51,"y":1.15},{"x":0.53,"y":1.15},{"x":0.55,"y":1.15},{"x":0.57,"y":1.15},{"x":0.59,"y":1.15},{"x":0.79,"y":1.15},
{"x":0.41,"y":1.13},{"x":0.43,"y":1.13},{"x":0.45,"y":1.13},{"x":0.47,"y":1.13},{"x":0.49,"y":1.13},{"x":0.51,"y":1.13},{"x":0.99,"y":1.13},
{"x":0.41,"y":1.11},{"x":0.43,"y":1.11},{"x":0.47,"y":1.11},{"x":0.49,"y":1.11},{"x":0.53,"y":1.11},{"x":0.57,"y":1.11},{"x":0.59,"y":1.11},{"x":0.89,"y":1.11},{"x":0.93,"y":1.11},
{"x":0.41,"y":1.09},{"x":0.43,"y":1.09},{"x":0.93,"y":1.09},
{"x":0.43,"y":1.07},{"x":0.45,"y":1.07},{"x":0.51,"y":1.07},{"x":0.55,"y":1.07},{"x":0.57,"y":1.07},{"x":0.91,"y":1.07},
{"x":0.41,"y":1.05},{"x":0.43,"y":1.05},{"x":0.45,"y":1.05},{"x":0.47,"y":1.05},{"x":0.51,"y":1.05},{"x":0.53,"y":1.05},{"x":0.55,"y":1.05},{"x":0.93,"y":1.05},{"x":0.99,"y":1.05},
{"x":0.41,"y":1.03},{"x":0.45,"y":1.03},{"x":0.49,"y":1.03},{"x":0.51,"y":1.03},{"x":0.57,"y":1.03},{"x":0.61,"y":1.03},{"x":0.85,"y":1.03},
{"x":0.41,"y":1.01},{"x":0.43,"y":1.01},{"x":0.47,"y":1.01},{"x":0.53,"y":1.01},{"x":0.57,"y":1.01},{"x":0.87,"y":1.01},
{"x":0.41,"y":0.99},{"x":0.45,"y":0.99},{"x":0.49,"y":0.99},{"x":0.63,"y":0.99},{"x":0.91,"y":0.99},{"x":0.99,"y":0.99},
{"x":0.41,"y":0.97},{"x":0.43,"y":0.97},{"x":0.45,"y":0.97},{"x":0.47,"y":0.97},{"x":0.49,"y":0.97},{"x":0.53,"y":0.97},{"x":0.55,"y":0.97},{"x":0.57,"y":0.97},{"x":0.91,"y":0.97},{"x":0.93,"y":0.97},
{"x":0.41,"y":0.95},{"x":0.43,"y":0.95},{"x":0.45,"y":0.95},{"x":0.47,"y":0.95},
{"x":0.41,"y":0.93},{"x":0.43,"y":0.93},{"x":0.45,"y":0.93},{"x":0.47,"y":0.93},{"x":0.51,"y":0.93},{"x":0.53,"y":0.93},{"x":0.55,"y":0.93},{"x":0.57,"y":0.93},{"x":0.83,"y":0.93},{"x":0.91,"y":0.93},{"x":0.99,"y":0.93},
{"x":0.41,"y":0.91},{"x":0.43,"y":0.91},{"x":0.45,"y":0.91},{"x":0.47,"y":0.91},{"x":0.49,"y":0.91},{"x":0.97,"y":0.91},
{"x":0.75,"y":0.89},{"x":0.87,"y":0.89},{"x":0.91,"y":0.89},
{"x":0.83,"y":0.87},{"x":0.87,"y":0.87},{"x":0.91,"y":0.87},{"x":0.93,"y":0.87},
{"x":0.59,"y":0.85},{"x":0.61,"y":0.85},{"x":0.65,"y":0.85},{"x":0.77,"y":0.85},{"x":0.79,"y":0.85},{"x":0.85,"y":0.85},{"x":0.93,"y":0.85},{"x":0.95,"y":0.85},{"x":0.97,"y":0.85},
{"x":0.57,"y":0.83},{"x":0.59,"y":0.83},{"x":0.61,"y":0.83},{"x":0.79,"y":0.83},{"x":0.87,"y":0.83},{"x":0.89,"y":0.83},{"x":0.91,"y":0.83},{"x":0.95,"y":0.83},{"x":0.97,"y":0.83},
{"x":0.57,"y":0.81},{"x":0.59,"y":0.81},{"x":0.63,"y":0.81},{"x":0.79,"y":0.81},{"x":0.87,"y":0.81},{"x":0.91,"y":0.81},{"x":0.95,"y":0.81},{"x":0.97,"y":0.81},{"x":0.99,"y":0.81},
{"x":0.59,"y":0.79},{"x":0.61,"y":0.79},{"x":0.79,"y":0.79},{"x":0.87,"y":0.79},{"x":0.91,"y":0.79},{"x":0.97,"y":0.79},{"x":0.99,"y":0.79},
{"x":0.57,"y":0.77},{"x":0.61,"y":0.77},{"x":0.65,"y":0.77},{"x":0.79,"y":0.77},{"x":0.87,"y":0.77},{"x":0.89,"y":0.77},{"x":0.91,"y":0.77},{"x":0.99,"y":0.77},
{"x":0.57,"y":0.75},{"x":0.59,"y":0.75},{"x":0.61,"y":0.75},{"x":0.65,"y":0.75},{"x":0.79,"y":0.75},{"x":0.81,"y":0.75},{"x":0.83,"y":0.75},{"x":0.91,"y":0.75},{"x":0.93,"y":0.75},{"x":0.95,"y":0.75},
{"x":0.57,"y":0.73},{"x":0.59,"y":0.73},{"x":0.61,"y":0.73},{"x":0.65,"y":0.73},{"x":0.83,"y":0.73},{"x":0.87,"y":0.73},{"x":0.93,"y":0.73},{"x":0.95,"y":0.73},{"x":0.97,"y":0.73},
{"x":0.57,"y":0.71},{"x":0.59,"y":0.71},{"x":0.61,"y":0.71},{"x":0.63,"y":0.71},{"x":0.65,"y":0.71},{"x":0.77,"y":0.71},{"x":0.83,"y":0.71},{"x":0.87,"y":0.71},{"x":0.89,"y":0.71},{"x":0.93,"y":0.71},{"x":0.95,"y":0.71},{"x":0.99,"y":0.71},
{"x":0.57,"y":0.69},{"x":0.59,"y":0.69},{"x":0.61,"y":0.69},{"x":0.63,"y":0.69},{"x":0.81,"y":0.69},{"x":0.85,"y":0.69},{"x":0.89,"y":0.69},{"x":0.93,"y":0.69},{"x":0.95,"y":0.69},{"x":0.97,"y":0.69},{"x":0.99,"y":0.69},
{"x":0.57,"y":0.67},{"x":0.59,"y":0.67},{"x":0.61,"y":0.67},{"x":0.63,"y":0.67},{"x":0.73,"y":0.67},{"x":0.77,"y":0.67},{"x":0.83,"y":0.67},{"x":0.85,"y":0.67},{"x":0.89,"y":0.67},{"x":0.91,"y":0.67},{"x":0.93,"y":0.67},{"x":0.97,"y":0.67},{"x":0.99,"y":0.67},
{"x":0.57,"y":0.65},{"x":0.59,"y":0.65},{"x":0.61,"y":0.65},{"x":0.63,"y":0.65},{"x":0.67,"y":0.65},{"x":0.77,"y":0.65},{"x":0.79,"y":0.65},{"x":0.81,"y":0.65},{"x":0.83,"y":0.65},{"x":0.85,"y":0.65},{"x":0.87,"y":0.65},{"x":0.89,"y":0.65},{"x":0.93,"y":0.65},{"x":0.95,"y":0.65},{"x":0.97,"y":0.65},{"x":0.99,"y":0.65},
{"x":0.57,"y":0.63},{"x":0.59,"y":0.63},{"x":0.61,"y":0.63},{"x":0.63,"y":0.63},{"x":0.77,"y":0.63},{"x":0.79,"y":0.63},{"x":0.83,"y":0.63},{"x":0.85,"y":0.63},{"x":0.87,"y":0.63},{"x":0.89,"y":0.63},{"x":0.91,"y":0.63},{"x":0.93,"y":0.63},{"x":0.95,"y":0.63},{"x":0.97,"y":0.63},{"x":0.99,"y":0.63}],
"holes":[{"x":0.23,"y":1.97},{"x":0.31,"y":1.97},{"x":0.33,"y":1.95},{"x":0.17,"y":1.95},{"x":0.35,"y":1.93},{"x":0.37,"y":1.93},{"x":0.19,"y":1.89},{"x":0.27,"y":1.89},{"x":0.21,"y":1.87},{"x":0.29,"y":1.87},{"x":0.31,"y":1.87},{"x":0.33,"y":1.87},{"x":0.13,"y":1.81},{"x":0.39,"y":1.79},{"x":0.35,"y":1.73},{"x":0.39,"y":1.73},{"x":0.35,"y":1.67},{"x":0.35,"y":1.65},{"x":0.39,"y":1.69},{"x":0.39,"y":1.67},{"x":0.39,"y":1.61},{"x":0.37,"y":1.53},{"x":0.33,"y":1.49},{"x":0.37,"y":1.47},{"x":0.25,"y":1.45},{"x":0.27,"y":1.41},{"x":0.25,"y":1.39},{"x":0.33,"y":1.39},{"x":0.33,"y":1.37},{"x":0.35,"y":1.27},{"x":0.39,"y":1.03},{"x":0.41,"y":0.95}],
"bar":[{"y":0.001,"y2":0.00126},{"y":0.00126,"y2":0.00158},{"y":0.00158,"y2":0.002},{"y":0.002,"y2":0.00251},{"y":0.00251,"y2":0.00316},{"y":0.00316,"y2":0.00398},{"y":0.00398,"y2":0.00501},{"y":0.00501,"y2":0.00631},{"y":0.00631,"y2":0.00794},{"y":0.00794,"y2":0.01},{"y":0.01,"y2":0.0126},{"y":0.0126,"y2":0.0158},{"y":0.0158,"y2":0.02},{"y":0.02,"y2":0.0251},{"y":0.0251,"y2":0.0316},{"y":0.0316,"y2":0.0398},{"y":0.0398,"y2":0.0501},{"y":0.0501,"y2":0.0631},{"y":0.0631,"y2":0.0794},{"y":0.0794,"y2":0.1},{"y":0.1,"y2":0.126},{"y":0.126,"y2":0.158},{"y":0.158,"y2":0.2},{"y":0.2,"y2":0.251},{"y":0.251,"y2":0.316},{"y":0.316,"y2":0.398},{"y":0.398,"y2":0.501},{"y":0.501,"y2":0.631},{"y":0.631,"y2":0.794},{"y":0.794,"y2":1},{"y":1,"y2":1.26},{"y":1.26,"y2":1.58},{"y":1.58,"y2":2},{"y":2,"y2":2.51},{"y":2.51,"y2":3.16},{"y":3.16,"y2":3.98},{"y":3.98,"y2":5.01},{"y":5.01,"y2":6.31},{"y":6.31,"y2":7.94},{"y":7.94,"y2":10},{"y":10,"y2":12.6},{"y":12.6,"y2":15.8},{"y":15.8,"y2":20},{"y":20,"y2":25.1},{"y":25.1,"y2":31.6},{"y":31.6,"y2":39.8},{"y":39.8,"y2":50.1},{"y":50.1,"y2":63.1},{"y":63.1,"y2":79.4},{"y":79.4,"y2":100}]},
"hconcat":[
{"width":501,"height":500,"title":"No background","data":{"name":"left"},"transform":[{"lookup":"c","from":{"data":{"name":"cols"},"key":"c","fields":["x","x2"]}},{"lookup":"r","from":{"data":{"name":"rows"},"key":"r","fields":["y","y2"]}}],"mark":{"type":"rect"},"encoding":{"x":{"field":"x","type":"quantitative","scale":{"domain":[0,2]},"axis":{"values":[0,0.5,1,1.5,2],"format":".1f","title":"φf (°)","titleFontStyle":"italic","titlePadding":7}},"x2":{"field":"x2"},"y":{"field":"y","type":"quantitative","scale":{"domain":[0,2]},"axis":{"values":[0,0.25,0.5,0.75,1,1.25,1.5,1.75,2],"format":".2f","title":"αf (°)","titleFontStyle":"italic","titlePadding":17}},"y2":{"field":"y2"},"color":{"field":"v","type":"quantitative","legend":null,"scale":{"type":"log","domain":[0.001,100],"scheme":"inferno","clamp":true}},"stroke":{"field":"v","type":"quantitative","legend":null,"scale":{"type":"log","domain":[0.001,100],"scheme":"inferno","clamp":true}}}},
{"width":501,"height":500,"title":"Custom background","encoding":{"x":{"field":"x","type":"quantitative","scale":{"domain":[0,2]},"axis":{"values":[0,0.5,1,1.5,2],"format":".1f","title":"φf (°)","titleFontStyle":"italic","titlePadding":7}},"y":{"field":"y","type":"quantitative","scale":{"domain":[0,2]},"axis":{"values":[0,0.25,0.5,0.75,1,1.25,1.5,1.75,2],"format":".2f","title":null,"minExtent":53}}},
"layer":[
{"data":{"name":"right"},"transform":[{"filter":"datum.c==27"},{"lookup":"c","from":{"data":{"name":"cols"},"key":"c","fields":["x","x2"]}},{"lookup":"r","from":{"data":{"name":"rows"},"key":"r","fields":["y","y2"]}}],"mark":{"type":"rect"},"encoding":{"x2":{"field":"x2"},"y2":{"field":"y2"},"color":{"field":"v","type":"quantitative","legend":null,"scale":{"type":"log","domain":[0.001,100],"scheme":"inferno","clamp":true}},"stroke":{"field":"v","type":"quantitative","legend":null,"scale":{"type":"log","domain":[0.001,100],"scheme":"inferno","clamp":true}}}},
{"data":{"name":"left"},"transform":[{"lookup":"c","from":{"data":{"name":"cols"},"key":"c","fields":["x","x2"]}},{"lookup":"r","from":{"data":{"name":"rows"},"key":"r","fields":["y","y2"]}},{"filter":"datum.x2<=1 && datum.y2<=0.62"}],"mark":{"type":"rect"},"encoding":{"x2":{"field":"x2"},"y2":{"field":"y2"},"color":{"field":"v","type":"quantitative","legend":null,"scale":{"type":"log","domain":[0.001,100],"scheme":"inferno","clamp":true}},"stroke":{"field":"v","type":"quantitative","legend":null,"scale":{"type":"log","domain":[0.001,100],"scheme":"inferno","clamp":true}}}},
{"data":{"name":"right"},"transform":[{"filter":"datum.c!=27"},{"lookup":"c","from":{"data":{"name":"cols"},"key":"c","fields":["x","x2"]}},{"lookup":"r","from":{"data":{"name":"rows"},"key":"r","fields":["y","y2"]}}],"mark":{"type":"rect"},"encoding":{"x2":{"field":"x2"},"y2":{"field":"y2"},"color":{"field":"v","type":"quantitative","legend":null,"scale":{"type":"log","domain":[0.001,100],"scheme":"inferno","clamp":true}},"stroke":{"field":"v","type":"quantitative","legend":null,"scale":{"type":"log","domain":[0.001,100],"scheme":"inferno","clamp":true}}}},
{"data":{"name":"coarse"},"mark":{"type":"rect","width":10.02,"height":10},"encoding":{"color":{"field":"v","type":"quantitative","legend":null,"scale":{"type":"log","domain":[0.001,100],"scheme":"inferno","clamp":true}}}},
{"data":{"name":"fine"},"mark":{"type":"rect","width":5.01,"height":5,"color":"#e0563a"}},
{"data":{"name":"holes"},"mark":{"type":"rect","width":5.01,"height":5,"color":"white"}}
]},
{"width":26,"height":500,"data":{"name":"bar"},"mark":{"type":"rect"},"encoding":{"x":{"value":0},"x2":{"value":26},"y":{"field":"y","type":"quantitative","scale":{"type":"log","domain":[0.001,100]},"axis":{"orient":"right","title":"Intensity","titleAngle":270,"titlePadding":27,"values":[0.001,0.002,0.003,0.004,0.005,0.006,0.007,0.008,0.009,0.01,0.02,0.03,0.04,0.05,0.06,0.07,0.08,0.09,0.1,0.2,0.3,0.4,0.5,0.6,0.7,0.8,0.9,1,2,3,4,5,6,7,8,9,10,20,30,40,50,60,70,80,90,100],"tickSize":{"condition":{"test":"abs(log(datum.value)/LN10-round(log(datum.value)/LN10))<0.001","value":5},"value":3},"labelExpr":"datum.value==100?'10²':datum.value==10?'10¹':datum.value==1?'10⁰':datum.value==0.1?'10⁻¹':datum.value==0.01?'10⁻²':datum.value==0.001?'10⁻³':''"}},"y2":{"field":"y2"},"color":{"field":"y","type":"quantitative","legend":null,"scale":{"type":"log","domain":[0.001,100],"scheme":"inferno"}},"stroke":{"field":"y","type":"quantitative","legend":null,"scale":{"type":"log","domain":[0.001,100],"scheme":"inferno"}}}}
]}
